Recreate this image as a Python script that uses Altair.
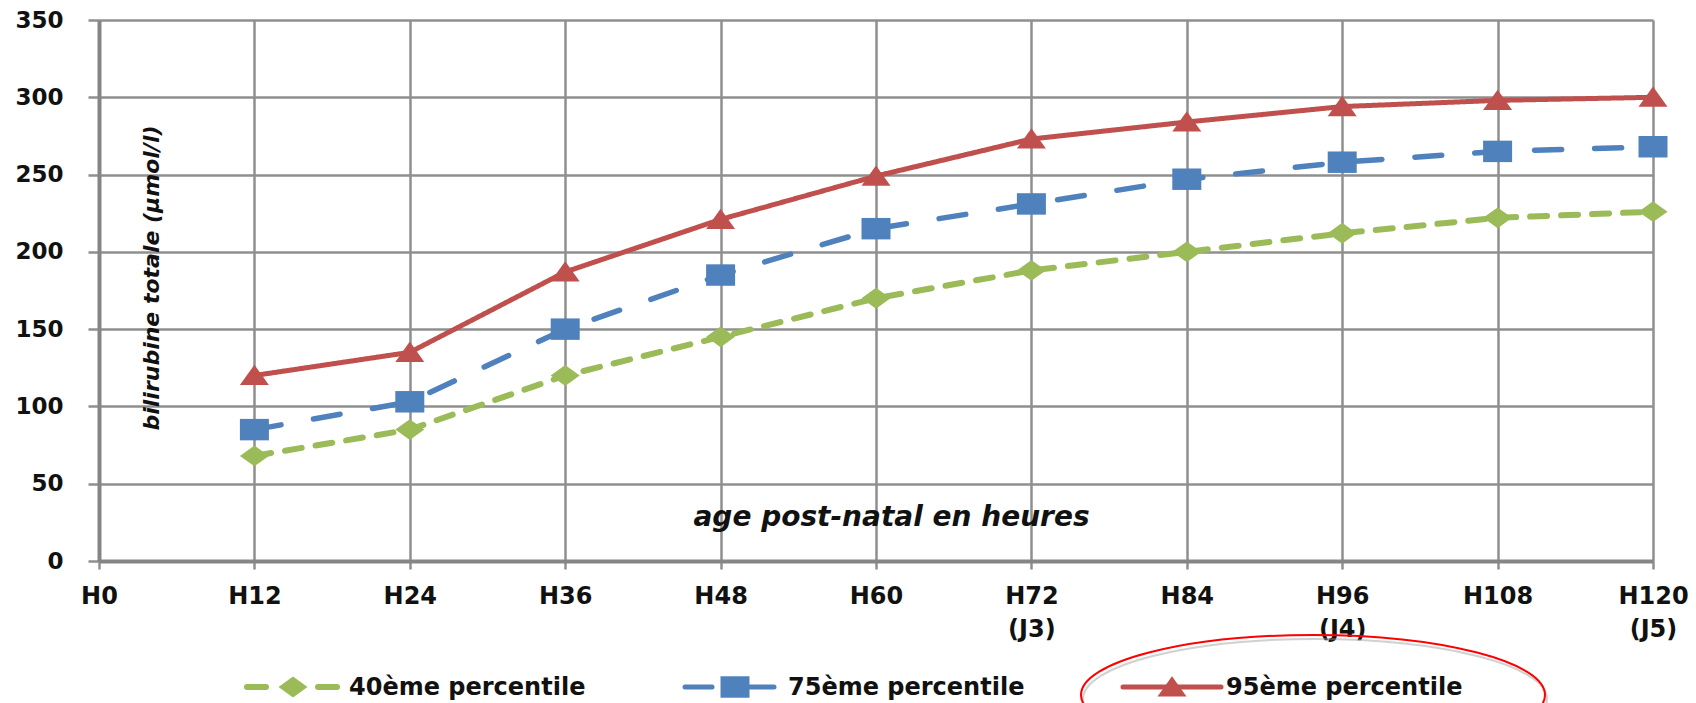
import altair as alt
import pandas as pd

# Total bilirubin percentile curves by post-natal age (hours)
hours = [12, 24, 36, 48, 60, 72, 84, 96, 108, 120]
p40 = [68, 85, 120, 145, 170, 188, 200, 212, 222, 226]
p75 = [85, 103, 150, 185, 215, 231, 247, 258, 265, 268]
p95 = [120, 135, 187, 221, 249, 273, 284, 294, 298, 300]

series = ["40ème percentile", "75ème percentile", "95ème percentile"]
x_ticks = [0, 12, 24, 36, 48, 60, 72, 84, 96, 108, 120]
day_labels = {72: "(J3)", 96: "(J4)", 120: "(J5)"}
y_ticks = [0, 50, 100, 150, 200, 250, 300, 350]
x_title = "age post-natal en heures"
y_title = "bilirubine totale (µmol/l)"

# ---- styling -------------------------------------------------------------
FONT = "DejaVu Sans"
colors = ["#9BBB59", "#4F81BD", "#C0504D"]
dashes = [[17, 14], [27, 33], [1, 0]]
widths = [6, 5, 5]
marker_paths = [
    "M0,-0.72L1,0L0,0.72L-1,0Z",                   # diamond
    "M-1,-0.74L1,-0.74L1,0.74L-1,0.74Z",           # square
    "M0,-0.74L1,0.66L-1,0.66Z",                    # triangle
]
MARKER_SIZE = 841
GRID = "#8f8f8f"
PLOT_W, PLOT_H = 1554, 541

rows = []
for name, vals in zip(series, [p40, p75, p95]):
    for h, v in zip(hours, vals):
        rows.append({"heure": h, "valeur": v, "serie": name})
df = pd.DataFrame(rows)

# x labels: "H<n>", with the day on a second line for whole days
label_expr = "'H' + datum.value"
for h, d in day_labels.items():
    label_expr = f"datum.value == {h} ? ['H{h}', '{d}'] : " + label_expr

x_enc = alt.X(
    "heure:Q",
    scale=alt.Scale(domain=[0, 120], nice=False, zero=True),
    axis=alt.Axis(
        values=x_ticks, labelExpr=label_expr, labelFlush=False, labelOverlap=False,
        labelFontSize=24, labelPadding=15, labelLineHeight=33, tickSize=8,
        title=x_title, titleX=792, titleY=-36, titleAlign="center",
        titleBaseline="alphabetic", titleFontSize=28, titleFontStyle="italic",
    ),
)
y_enc = alt.Y(
    "valeur:Q",
    scale=alt.Scale(domain=[0, 350], nice=False),
    axis=alt.Axis(
        values=y_ticks, labelFontSize=23, labelPadding=25, tickSize=11,
        labelFlush=False, labelOverlap=False,
        title=y_title, titleX=52, titleY=257.5, titleAngle=270,
        titleAlign="center", titleBaseline="middle", titleFontSize=22,
        titleFontStyle="italic",
    ),
)
color_enc = alt.Color("serie:N", scale=alt.Scale(domain=series, range=colors), legend=None)

base = alt.Chart(df).encode(x=x_enc, y=y_enc, color=color_enc)

lines = base.mark_line(strokeCap="round", strokeJoin="round").encode(
    strokeDash=alt.StrokeDash("serie:N", scale=alt.Scale(domain=series, range=dashes), legend=None),
    strokeWidth=alt.StrokeWidth("serie:N", scale=alt.Scale(domain=series, range=widths), legend=None),
)
points = base.mark_point(filled=True, opacity=1, strokeWidth=0, size=MARKER_SIZE).encode(
    shape=alt.Shape("serie:N", scale=alt.Scale(domain=series, range=marker_paths), legend=None),
)

# ---- legend drawn below the plot ----------------------------------------
one = pd.DataFrame({"k": [0]})
LEG_Y = 667
legend_items = [
    # segments of the line sample, marker centre, text start (plot pixels)
    ([(148, 167), (219, 238)], 194, 250),
    ([(586, 613), (641, 675)], 636, 689),
    ([(1024, 1122)], 1073, 1127),
]
legend_layers = []
for (segs, mx, tx), name, col, path, w in zip(legend_items, series, colors, marker_paths, widths):
    for a, b in segs:
        legend_layers.append(
            alt.Chart(one).mark_rule(color=col, strokeWidth=w, strokeCap="round").encode(
                x=alt.value(a), x2=alt.value(b), y=alt.value(LEG_Y)
            )
        )
    legend_layers.append(
        alt.Chart(one).mark_point(
            shape=path, size=MARKER_SIZE, filled=True, color=col, opacity=1, strokeWidth=0
        ).encode(x=alt.value(mx), y=alt.value(LEG_Y))
    )
    legend_layers.append(
        alt.Chart(one).mark_text(
            text=name, font=FONT, fontSize=24, fontWeight="bold", color="#111111",
            align="left", baseline="middle",
        ).encode(x=alt.value(tx), y=alt.value(LEG_Y + 1))
    )

# ---- hand-drawn style ellipse around the 95th percentile entry -----------
k = 0.2586
c = 0.5523
ellipse_path = (
    f"M-1,0C-1,{-c*k:.4f} {-c:.4f},{-k} 0,{-k}"
    f"C{c:.4f},{-k} 1,{-c*k:.4f} 1,0"
    f"C1,{c*k:.4f} {c:.4f},{k} 0,{k}"
    f"C{-c:.4f},{k} -1,{c*k:.4f} -1,0Z"
)
ELL_SIZE = (2 * 232) ** 2
ellipse_shadow = alt.Chart(one).mark_point(
    shape=ellipse_path, size=ELL_SIZE, filled=False, stroke="#9a9a9a",
    strokeWidth=2, opacity=0.45,
).encode(x=alt.value(1216), y=alt.value(679))
ellipse = alt.Chart(one).mark_point(
    shape=ellipse_path, size=ELL_SIZE, filled=False, stroke="#FF0000",
    strokeWidth=2, opacity=1,
).encode(x=alt.value(1214), y=alt.value(675))

chart = (
    alt.layer(lines, points, *legend_layers, ellipse_shadow, ellipse)
    .properties(
        width=PLOT_W,
        height=PLOT_H,
        padding={"left": 99, "top": 20, "right": 43, "bottom": 142},
        autosize=alt.AutoSizeParams(type="none"),
        background="white",
    )
    .configure_view(strokeWidth=0)
    .configure_axis(
        labelFont=FONT, labelFontWeight="bold", labelColor="#111111",
        titleFont=FONT, titleFontWeight="bold", titleColor="#111111",
        grid=True, gridColor=GRID, gridWidth=2.5, gridOpacity=1,
        domainColor="#858585", domainWidth=4,
        tickColor=GRID, tickWidth=2.5, labelLimit=400, titleLimit=1000,
    )
)

chart.save("out.html", embed_options={"renderer": "svg", "actions": False})
